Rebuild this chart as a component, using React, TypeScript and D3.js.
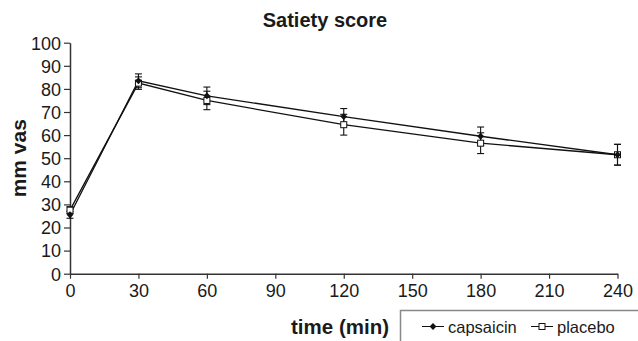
import React, { useRef, useEffect } from 'react';
import * as d3 from 'd3';

const times = [0, 30, 60, 120, 180, 240];
const capsaicin = [25.5, 83.5, 77, 68, 59.5, 51.5];
const capsaicinErr = [1.5, 3, 3.8, 3.5, 4, 4.5];
const placebo = [27.5, 82.5, 75, 64.5, 56.5, 51.5];
const placeboErr = [1.5, 2.7, 4, 4.5, 4.5, 4.5];
const xTicks = [0, 30, 60, 90, 120, 150, 180, 210, 240];
const yTicks = [0, 10, 20, 30, 40, 50, 60, 70, 80, 90, 100];

const FONT = 'Liberation Sans, Arial, Helvetica, sans-serif';

const App: React.FC = () => {
    const svgRef = useRef<SVGSVGElement | null>(null);
    const width = 638;
    const height = 341;

    useEffect(() => {
        if (!svgRef.current) return;
        const svg = d3.select(svgRef.current);
        svg.selectAll('*').remove();

        const x = d3.scaleLinear().domain([0, 240]).range([70, 617.5]);
        const y = d3.scaleLinear().domain([0, 100]).range([273.7, 42.7]);

        svg.append('rect').attr('width', width).attr('height', height).attr('fill', '#fff');

        // title
        svg.append('text')
            .attr('x', 325).attr('y', 27)
            .attr('text-anchor', 'middle')
            .attr('font-family', FONT).attr('font-weight', 'bold').attr('font-size', 20)
            .attr('fill', '#1a1a1a')
            .text('Satiety score');

        // axes
        const yAxis = svg.append('g')
            .attr('transform', `translate(${x(0)},0)`)
            .call(d3.axisLeft(y).tickValues(yTicks).tickSize(6).tickSizeOuter(0).tickPadding(3));
        const xAxis = svg.append('g')
            .attr('transform', `translate(0,${y(0)})`)
            .call(d3.axisBottom(x).tickValues(xTicks).tickSize(5).tickSizeOuter(0).tickPadding(6));
        [xAxis, yAxis].forEach(g => {
            g.select('.domain').attr('stroke', '#333').attr('stroke-width', 1.5);
            g.selectAll('line').attr('stroke', '#333').attr('stroke-width', 1.2);
            g.selectAll('text')
                .attr('font-family', FONT).attr('font-size', 18).attr('fill', '#1a1a1a');
        });
        yAxis.selectAll('text').attr('dy', '0.35em');

        // axis titles
        svg.append('text')
            .attr('transform', `translate(26,${y(50)}) rotate(-90)`)
            .attr('text-anchor', 'middle')
            .attr('font-family', FONT).attr('font-weight', 'bold').attr('font-size', 21)
            .attr('fill', '#1a1a1a')
            .text('mm vas');
        svg.append('text')
            .attr('x', 389).attr('y', 334)
            .attr('text-anchor', 'end')
            .attr('font-family', FONT).attr('font-weight', 'bold').attr('font-size', 20.5)
            .attr('fill', '#1a1a1a')
            .text('time (min)');

        const line = d3.line<number>()
            .x((_, i) => x(times[i]))
            .y(d => y(d));

        const series = [
            { values: placebo, err: placeboErr, marker: 'square' },
            { values: capsaicin, err: capsaicinErr, marker: 'diamond' },
        ];

        series.forEach(s => {
            svg.append('path')
                .datum(s.values)
                .attr('fill', 'none')
                .attr('stroke', '#111')
                .attr('stroke-width', 1.3)
                .attr('d', line);
        });

        series.forEach(s => {
            const g = svg.append('g').attr('stroke', '#111').attr('stroke-width', 1.1);
            s.values.forEach((v, i) => {
                const cx = x(times[i]);
                g.append('line').attr('x1', cx).attr('x2', cx).attr('y1', y(v - s.err[i])).attr('y2', y(v + s.err[i]));
                g.append('line').attr('x1', cx - 3.5).attr('x2', cx + 3.5).attr('y1', y(v - s.err[i])).attr('y2', y(v - s.err[i]));
                g.append('line').attr('x1', cx - 3.5).attr('x2', cx + 3.5).attr('y1', y(v + s.err[i])).attr('y2', y(v + s.err[i]));
            });
        });

        const drawMarker = (g: d3.Selection<SVGGElement, unknown, null, undefined>, kind: string, cx: number, cy: number) => {
            if (kind === 'square') {
                g.append('rect')
                    .attr('x', cx - 3).attr('y', cy - 3).attr('width', 6).attr('height', 6)
                    .attr('fill', '#fff').attr('stroke', '#111').attr('stroke-width', 1);
            } else {
                g.append('path')
                    .attr('d', d3.symbol(d3.symbolDiamond2, 30)())
                    .attr('transform', `translate(${cx},${cy})`)
                    .attr('fill', '#111');
            }
        };

        series.forEach(s => {
            const g = svg.append('g');
            s.values.forEach((v, i) => drawMarker(g, s.marker, x(times[i]), y(v)));
        });

        // legend
        svg.append('rect')
            .attr('x', 400.5).attr('y', 310.5).attr('width', 260).attr('height', 60)
            .attr('fill', '#fff').attr('stroke', '#888').attr('stroke-width', 1.5);
        const legend = [
            { label: 'capsaicin', marker: 'diamond', x0: 422, tx: 448 },
            { label: 'placebo', marker: 'square', x0: 531, tx: 557 },
        ];
        legend.forEach(l => {
            const g = svg.append('g');
            g.append('line').attr('x1', l.x0).attr('x2', l.x0 + 22).attr('y1', 326.5).attr('y2', 326.5)
                .attr('stroke', '#111').attr('stroke-width', 1);
            drawMarker(g, l.marker, l.x0 + 11, 326.5);
            g.append('text')
                .attr('x', l.tx).attr('y', 332.5)
                .attr('font-family', FONT).attr('font-size', 16.5).attr('fill', '#1a1a1a')
                .text(l.label);
        });
    }, []);

    return (
        <svg
            ref={svgRef}
            width={width}
            height={height}
            style={{ position: 'absolute', left: 0, top: 0 }}
        />
    );
};

export default App;
